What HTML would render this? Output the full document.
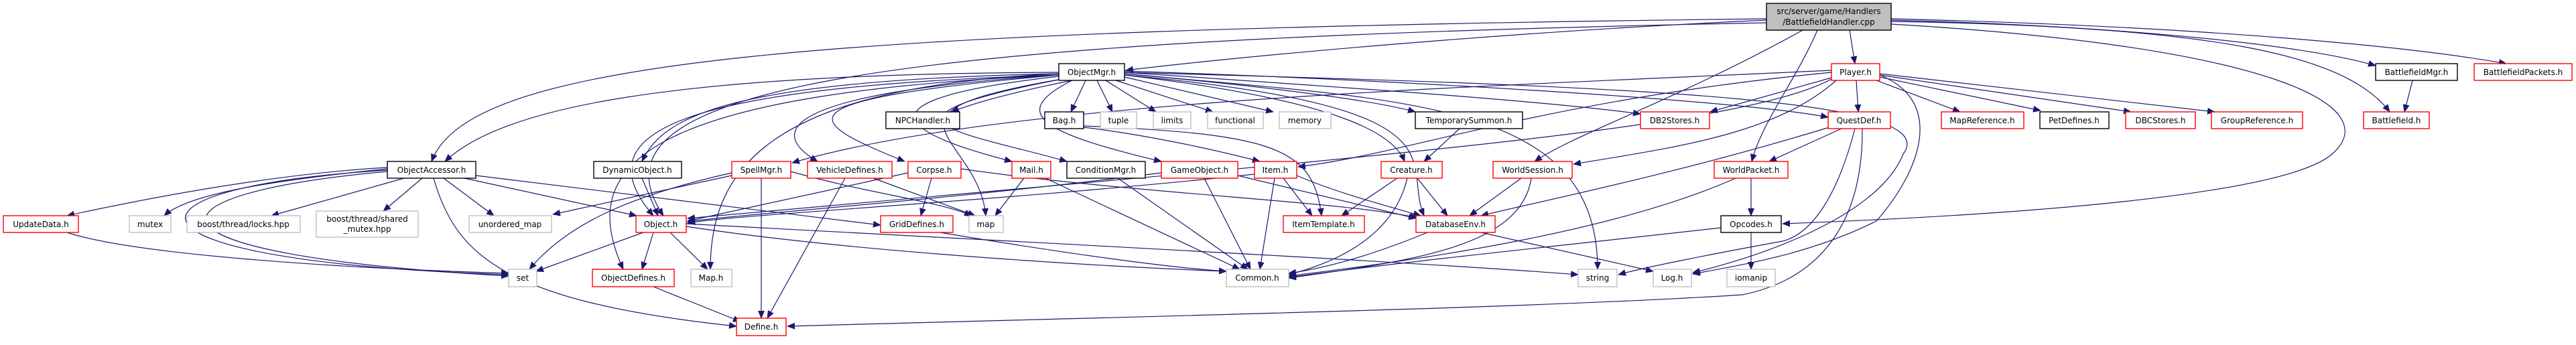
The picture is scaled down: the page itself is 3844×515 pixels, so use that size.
<!DOCTYPE html>
<html><head><meta charset="utf-8"><style>
html,body{margin:0;padding:0;background:#fff;}
svg{display:block;}
text{font-family:"DejaVu Sans","Liberation Sans",sans-serif;font-size:12px;fill:#000;}
.e{fill:none;stroke:#191970;stroke-width:1.2;marker-end:url(#a);}
.n{fill:#fff;stroke-width:1.4;}
.b{stroke:#000;}
.r{stroke:#ff0000;}
.g{stroke:#bfbfbf;}
</style></head><body>
<svg width="3844" height="515" viewBox="0 0 3844 515" xmlns="http://www.w3.org/2000/svg">
<defs><marker id="a" markerUnits="userSpaceOnUse" markerWidth="12" markerHeight="10" refX="11" refY="5" orient="auto"><path d="M0,0 L12,5 L0,10 z" fill="#191970"/></marker></defs>
<g>
<path class="e" d="M2636 28 C1200 45 700 90 644 241"/>
<path class="e" d="M2636 30 C2200 50 1800 90 1680 105"/>
<path class="e" d="M2636 34 C1300 60 860 130 990 322"/>
<path class="e" d="M2760 45 L2768 95"/>
<path class="e" d="M2690 45 C2500 150 2350 200 2290 241"/>
<path class="e" d="M2712 45 C2680 120 2630 180 2614 241"/>
<path class="e" d="M2822 30 C3200 40 3450 70 3545 98"/>
<path class="e" d="M2822 28 C3300 40 3600 70 3740 95"/>
<path class="e" d="M2822 32 C3300 40 3500 80 3566 167"/>
<path class="e" d="M2822 36 C3400 70 3560 160 3480 230 C3400 300 2900 325 2660 334"/>
<path class="e" d="M2733 108 C2300 150 2100 230 1937 249"/>
<path class="e" d="M2733 105 C2200 130 1500 150 1182 243"/>

<path class="e" d="M1580 108 C1000 110 750 160 664 241"/>
<path class="e" d="M1580 110 C1100 120 990 170 958 241"/>
<path class="e" d="M1580 112 C1000 130 870 200 975 322"/>
<path class="e" d="M1580 112 C950 140 860 250 930 402"/>
<path class="e" d="M1580 110 C1150 130 1060 250 1060 402"/>
<path class="e" d="M1600 120 C1500 140 1450 155 1420 167"/>
<path class="e" d="M1620 120 L1598 167"/>
<path class="e" d="M1637 120 L1660 167"/>
<path class="e" d="M1650 120 L1725 167"/>
<path class="e" d="M1665 120 L1810 167"/>
<path class="e" d="M1678 115 L1900 167"/>
<path class="e" d="M1580 112 C1150 140 1150 200 1220 241"/>
<path class="e" d="M1580 112 C1150 150 1200 180 1350 241"/>
<path class="e" d="M1580 114 C1260 150 1350 200 1510 241"/>
<path class="e" d="M1585 118 C1260 180 1450 200 1592 241"/>
<path class="e" d="M1600 120 C1500 170 1560 200 1733 241"/>
<path class="e" d="M1585 118 C1280 170 1460 200 1471 322"/>
<path class="e" d="M1678 110 C1900 130 2050 150 2112 167"/>
<path class="e" d="M1678 112 C2000 150 2080 200 2096 241"/>
<path class="e" d="M1678 108 C2000 130 2300 150 2448 170"/>
<path class="e" d="M1678 106 C2100 120 2600 150 2728 175"/>
<path class="e" d="M1678 112 C2200 160 2090 240 2125 322"/>
<path class="e" d="M1678 110 C2100 150 2384 150 2384 402"/>
<path class="e" d="M1678 108 C2500 130 2900 150 2840 230 C2800 330 2600 390 2526 407"/>

<path class="e" d="M2733 116 L2552 167"/>
<path class="e" d="M2770 120 L2773 167"/>
<path class="e" d="M2800 120 L2925 167"/>
<path class="e" d="M2805 115 L3045 165"/>
<path class="e" d="M2805 112 L3180 167"/>
<path class="e" d="M2805 110 L3305 167"/>
<path class="e" d="M2740 120 C2650 200 2500 220 2348 245"/>
<path class="e" d="M2733 118 C2600 190 2100 230 1026 326"/>
<path class="e" d="M2779 192 C2780 350 2700 420 2600 440 C2300 460 1600 475 1175 487"/>
<path class="e" d="M2768 192 C2740 300 2700 350 2660 360 C2550 380 2450 400 2415 410"/>
<path class="e" d="M2805 112 C2900 150 2870 250 2800 330 C2700 380 2600 395 2526 409"/>
<path class="e" d="M2748 192 L2640 241"/>
<path class="e" d="M2730 190 C2500 260 2300 300 2210 322"/>

<path class="e" d="M2085 266 L2002 322"/>
<path class="e" d="M2115 266 L2160 322"/>
<path class="e" d="M2100 266 C2080 350 2000 390 1923 410"/>
<path class="e" d="M2178 192 L2125 241"/>
<path class="e" d="M2270 266 L2193 322"/>
<path class="e" d="M2285 266 C2270 370 2100 390 1923 415"/>
<path class="e" d="M2613 266 L2613 322"/>
<path class="e" d="M2590 266 C2400 350 2100 390 1923 412"/>
<path class="e" d="M2613 347 L2613 402"/>
<path class="e" d="M2568 340 C2300 370 2100 390 1923 414"/>
<path class="e" d="M2130 347 C2050 380 1980 400 1923 408"/>
<path class="e" d="M2210 347 L2467 405"/>

<path class="e" d="M960 347 L800 405"/>
<path class="e" d="M975 347 L958 402"/>
<path class="e" d="M1000 347 L1056 402"/>
<path class="e" d="M1024 338 C1300 380 1700 400 1830 405"/>
<path class="e" d="M1024 334 C1500 360 2100 390 2355 410"/>

<path class="e" d="M578 250 C400 260 200 300 100 322"/>
<path class="e" d="M578 252 C400 270 280 290 245 322"/>
<path class="e" d="M603 266 L405 322"/>
<path class="e" d="M630 266 L572 315"/>
<path class="e" d="M662 266 L737 322"/>
<path class="e" d="M693 266 L950 322"/>
<path class="e" d="M710 262 L1314 336"/>
<path class="e" d="M578 254 C150 280 150 390 759 410"/>
<path class="e" d="M578 256 C200 290 180 380 759 412"/>
<path class="e" d="M647 266 C680 380 750 450 1099 487"/>
<path class="e" d="M100 347 C200 380 500 400 759 408"/>
<path class="e" d="M975 428 L1105 480"/>
<path class="e" d="M958 266 L982 322"/>
<path class="e" d="M1092 258 C950 290 850 330 790 402"/>
<path class="e" d="M1136 266 L1136 475"/>
<path class="e" d="M1180 256 C1300 290 1400 300 1450 322"/>
<path class="e" d="M1092 262 L825 320"/>
<path class="e" d="M1261 266 L1145 475"/>
<path class="e" d="M1303 266 L1455 322"/>
<path class="e" d="M1355 258 L1026 330"/>
<path class="e" d="M1390 266 L1374 322"/>
<path class="e" d="M1434 252 C1700 290 2000 300 2115 325"/>
<path class="e" d="M1528 266 L1485 322"/>
<path class="e" d="M1560 266 L1850 402"/>
<path class="e" d="M1668 266 L1862 402"/>
<path class="e" d="M1733 258 C1400 300 1100 320 1026 331"/>
<path class="e" d="M1797 266 L1866 402"/>
<path class="e" d="M1847 262 L2113 326"/>
<path class="e" d="M1872 260 C1500 300 1100 320 1026 333"/>
<path class="e" d="M1915 266 L1958 322"/>
<path class="e" d="M1902 266 L1880 402"/>
<path class="e" d="M1935 262 C2000 290 2080 310 2120 322"/>
<path class="e" d="M1617 190 C1700 200 1800 220 1880 241"/>
<path class="e" d="M1617 188 C1900 200 1960 220 1972 322"/>
<path class="e" d="M1403 347 C1600 380 1750 400 1830 405"/>
<path class="e" d="M3600 120 L3588 167"/>
</g>
<g>
<rect x="2636" y="5" width="186" height="40" fill="#bfbfbf" stroke="#000" stroke-width="1.4"/>
<text x="2729" y="21" text-anchor="middle">src/server/game/Handlers</text>
<text x="2729" y="37" text-anchor="middle">/BattlefieldHandler.cpp</text>
</g>
<g text-anchor="middle">
<rect class="n b" x="1580" y="95" width="98" height="25"/><text x="1629" y="112">ObjectMgr.h</text>
<rect class="n r" x="2733" y="95" width="72" height="25"/><text x="2769" y="112">Player.h</text>
<rect class="n b" x="3545" y="95" width="122" height="25"/><text x="3606" y="112">BattlefieldMgr.h</text>
<rect class="n r" x="3692" y="95" width="146" height="25"/><text x="3765" y="112">BattlefieldPackets.h</text>

<rect class="n b" x="1322" y="167" width="110" height="25"/><text x="1377" y="184">NPCHandler.h</text>
<rect class="n b" x="1559" y="167" width="58" height="25"/><text x="1588" y="184">Bag.h</text>
<rect class="n g" x="1642" y="167" width="54" height="25"/><text x="1669" y="184">tuple</text>
<rect class="n g" x="1721" y="167" width="56" height="25"/><text x="1749" y="184">limits</text>
<rect class="n g" x="1802" y="167" width="83" height="25"/><text x="1843" y="184">functional</text>
<rect class="n g" x="1909" y="167" width="77" height="25"/><text x="1947" y="184">memory</text>
<rect class="n b" x="2112" y="167" width="160" height="25"/><text x="2192" y="184">TemporarySummon.h</text>
<rect class="n r" x="2448" y="167" width="103" height="25"/><text x="2499" y="184">DB2Stores.h</text>
<rect class="n r" x="2728" y="167" width="93" height="25"/><text x="2774" y="184">QuestDef.h</text>
<rect class="n r" x="2897" y="167" width="123" height="25"/><text x="2958" y="184">MapReference.h</text>
<rect class="n b" x="3044" y="167" width="103" height="25"/><text x="3095" y="184">PetDefines.h</text>
<rect class="n r" x="3172" y="167" width="104" height="25"/><text x="3224" y="184">DBCStores.h</text>
<rect class="n r" x="3300" y="167" width="136" height="25"/><text x="3368" y="184">GroupReference.h</text>
<rect class="n r" x="3527" y="167" width="98" height="25"/><text x="3576" y="184">Battlefield.h</text>

<rect class="n b" x="578" y="241" width="132" height="25"/><text x="644" y="258">ObjectAccessor.h</text>
<rect class="n b" x="886" y="241" width="131" height="25"/><text x="951" y="258">DynamicObject.h</text>
<rect class="n r" x="1092" y="241" width="88" height="25"/><text x="1136" y="258">SpellMgr.h</text>
<rect class="n r" x="1205" y="241" width="126" height="25"/><text x="1268" y="258">VehicleDefines.h</text>
<rect class="n r" x="1355" y="241" width="79" height="25"/><text x="1394" y="258">Corpse.h</text>
<rect class="n r" x="1510" y="241" width="58" height="25"/><text x="1539" y="258">Mail.h</text>
<rect class="n b" x="1592" y="241" width="117" height="25"/><text x="1650" y="258">ConditionMgr.h</text>
<rect class="n r" x="1733" y="241" width="114" height="25"/><text x="1790" y="258">GameObject.h</text>
<rect class="n r" x="1872" y="241" width="63" height="25"/><text x="1903" y="258">Item.h</text>
<rect class="n r" x="2061" y="241" width="91" height="25"/><text x="2106" y="258">Creature.h</text>
<rect class="n r" x="2228" y="241" width="118" height="25"/><text x="2287" y="258">WorldSession.h</text>
<rect class="n r" x="2558" y="241" width="110" height="25"/><text x="2613" y="258">WorldPacket.h</text>

<rect class="n r" x="5" y="322" width="112" height="25"/><text x="61" y="339">UpdateData.h</text>
<rect class="n g" x="193" y="322" width="62" height="25"/><text x="224" y="339">mutex</text>
<rect class="n g" x="279" y="322" width="169" height="25"/><text x="363" y="339">boost/thread/locks.hpp</text>
<rect class="n g" x="472" y="315" width="152" height="39"/><text x="548" y="331">boost/thread/shared</text><text x="548" y="346">_mutex.hpp</text>
<rect class="n g" x="700" y="322" width="123" height="25"/><text x="761" y="339">unordered_map</text>
<rect class="n r" x="949" y="322" width="75" height="25"/><text x="986" y="339">Object.h</text>
<rect class="n r" x="1314" y="322" width="108" height="25"/><text x="1368" y="339">GridDefines.h</text>
<rect class="n g" x="1446" y="322" width="51" height="25"/><text x="1471" y="339">map</text>
<rect class="n r" x="1915" y="322" width="121" height="25"/><text x="1975" y="339">ItemTemplate.h</text>
<rect class="n r" x="2113" y="322" width="118" height="25"/><text x="2172" y="339">DatabaseEnv.h</text>
<rect class="n b" x="2568" y="322" width="90" height="25"/><text x="2613" y="339">Opcodes.h</text>

<rect class="n g" x="759" y="402" width="42" height="26"/><text x="780" y="419">set</text>
<rect class="n r" x="884" y="402" width="122" height="26"/><text x="945" y="419">ObjectDefines.h</text>
<rect class="n g" x="1031" y="402" width="61" height="26"/><text x="1061" y="419">Map.h</text>
<rect class="n g" x="1830" y="402" width="93" height="26"/><text x="1876" y="419">Common.h</text>
<rect class="n g" x="2355" y="402" width="58" height="26"/><text x="2384" y="419">string</text>
<rect class="n g" x="2467" y="402" width="57" height="26"/><text x="2495" y="419">Log.h</text>
<rect class="n g" x="2577" y="402" width="72" height="26"/><text x="2613" y="419">iomanip</text>

<rect class="n r" x="1099" y="475" width="74" height="26"/><text x="1136" y="492">Define.h</text>
</g>
</svg>
</body></html>
